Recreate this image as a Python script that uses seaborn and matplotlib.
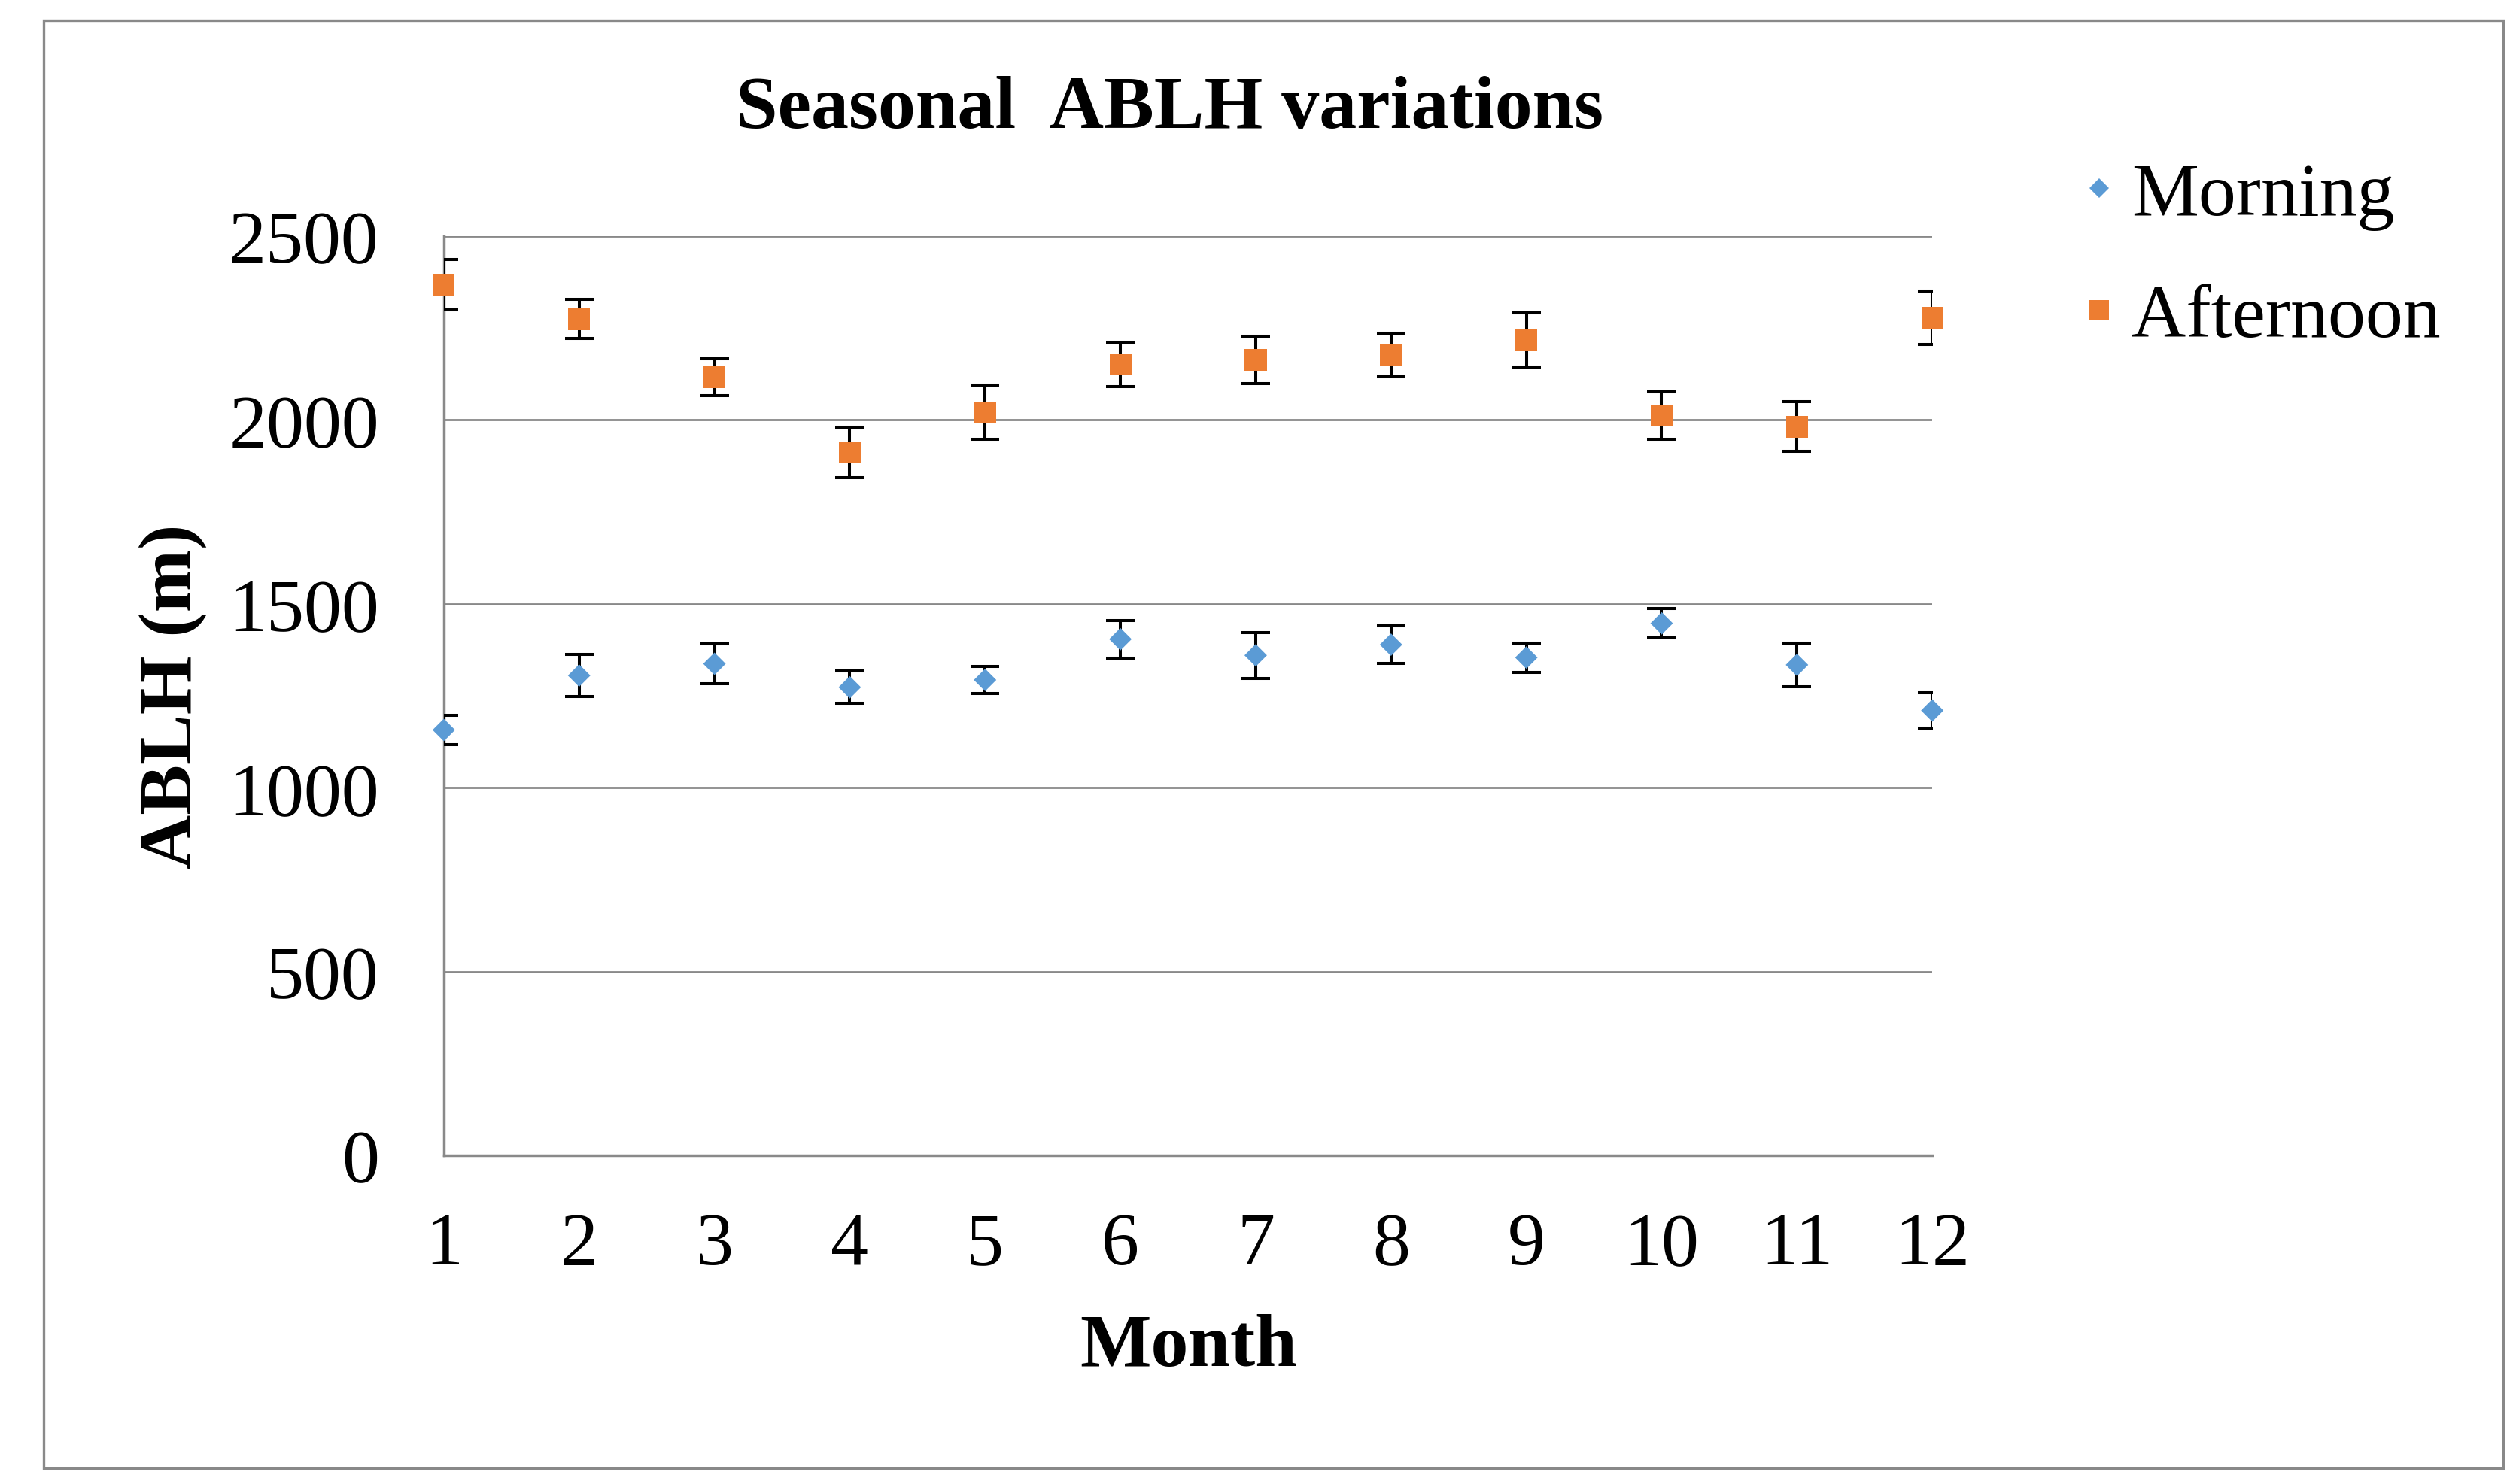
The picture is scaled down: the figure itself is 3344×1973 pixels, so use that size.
import numpy as np
import pandas as pd
import matplotlib
matplotlib.use("Agg")
import matplotlib.pyplot as plt
import seaborn as sns
from matplotlib.patches import Rectangle

# DATA
months = [1, 2, 3, 4, 5, 6, 7, 8, 9, 10, 11, 12]
morning = [1157, 1305, 1337, 1273, 1293, 1404, 1360, 1389, 1354, 1447, 1334, 1210]
morning_err = [40, 57, 55, 44, 36, 51, 62, 51, 40, 40, 59, 48]
afternoon = [2368, 2275, 2117, 1912, 2021, 2151, 2164, 2177, 2218, 2012, 1982, 2278]
afternoon_err = [69, 53, 50, 68, 73, 60, 64, 60, 73, 65, 67, 73]
series = ["Morning", "Afternoon"]
colors = {"Morning": "#5B9BD5", "Afternoon": "#ED7D31"}
yticks = [0, 500, 1000, 1500, 2000, 2500]

df = pd.DataFrame({
    "Month": months * 2,
    "ABLH": morning + afternoon,
    "Period": ["Morning"] * 12 + ["Afternoon"] * 12,
})

# STYLE
sns.set_style("white")
plt.rcParams["font.family"] = ["Liberation Serif", "DejaVu Serif"]
plt.rcParams["text.color"] = "black"

fig = plt.figure(figsize=(16.72, 9.87), dpi=200)
ax = fig.add_axes([0.1764, 0.2214, 0.768 - 0.1764, 0.8404 - 0.2214])

grid_c = "#898989"

# error bars (clipped to the plot area like the original)
for vals, errs in [(morning, morning_err), (afternoon, afternoon_err)]:
    ax.errorbar(months, vals, yerr=errs, fmt="none", ecolor="black",
                elinewidth=1.45, capsize=6.8, capthick=1.45, zorder=3)

# markers
sns.scatterplot(data=df, x="Month", y="ABLH", hue="Period", style="Period",
                hue_order=series, style_order=series, palette=colors,
                markers={"Morning": "D", "Afternoon": "s"},
                size="Period", sizes={"Morning": 58, "Afternoon": 110},
                linewidth=0, zorder=4, clip_on=False, ax=ax, legend="full")
ax.get_legend().remove()

ax.set_xlim(1, 12)
ax.set_ylim(0, 2500)
ax.set_xticks(months)
ax.set_yticks(yticks)
ax.set_xticklabels([str(m) for m in months], fontsize=36)
ax.set_yticklabels([str(v) for v in yticks], fontsize=36)
ax.tick_params(axis="y", length=0, pad=31, labelcolor="black")
ax.tick_params(axis="x", length=10.8, width=1.2, color=grid_c, pad=27,
               direction="in", labelcolor="black")
ax.set_xlabel("")
ax.set_ylabel("")

for v in yticks[1:]:
    ax.axhline(v, color=grid_c, lw=1.0, zorder=1)

for s in ["top", "right"]:
    ax.spines[s].set_visible(False)
for s in ["left", "bottom"]:
    ax.spines[s].set_color(grid_c)
    ax.spines[s].set_linewidth(1.25)

# TITLES
fig.text(0.465, 0.926, "Seasonal  ABLH variations", ha="center", va="center",
         fontsize=36, fontweight="bold")
fig.text(0.4725, 0.092, "Month", ha="center", va="center",
         fontsize=36, fontweight="bold")
fig.text(0.0686, 0.531, "ABLH (m)", ha="center", va="center", rotation=90,
         fontsize=36, fontweight="bold")

# LEGEND
handles, labels = ax.get_legend_handles_labels()
seen = {}
for h, l in zip(handles, labels):
    if l in series:
        seen.setdefault(l, h)
fig.legend([seen[s] for s in series], series, loc="upper left",
           bbox_to_anchor=(0.80, 0.936), frameon=False, fontsize=36,
           handletextpad=0.18, labelspacing=0.71, handlelength=0.5,
           markerscale=0.9)

# OUTER BORDER
fig.patches.append(Rectangle((0.0173, 0.0106), 0.9776, 0.9752, transform=fig.transFigure,
                             fill=False, edgecolor=grid_c, lw=1.2))

fig.savefig("out.png", dpi=200, facecolor="white")
